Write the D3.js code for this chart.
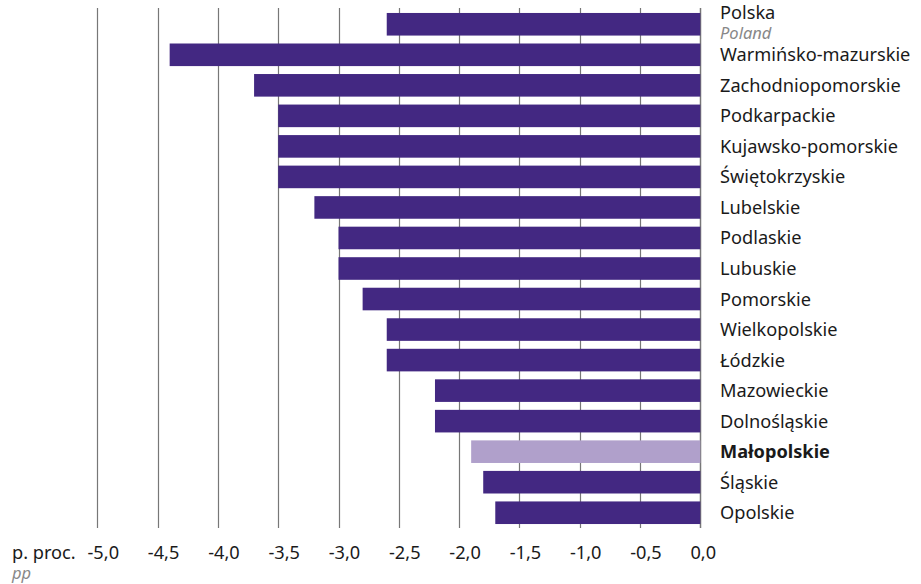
<!DOCTYPE html>
<html><head><meta charset="utf-8">
<script src="https://cdn.jsdelivr.net/npm/d3@7"></script>
<style>body{margin:0;background:#fff}svg{display:block}text{font-family:"Noto Sans",sans-serif}</style>
</head><body>
<script>
const categories = ["Polska","Warmińsko-mazurskie","Zachodniopomorskie","Podkarpackie","Kujawsko-pomorskie","Świętokrzyskie","Lubelskie","Podlaskie","Lubuskie","Pomorskie","Wielkopolskie","Łódzkie","Mazowieckie","Dolnośląskie","Małopolskie","Śląskie","Opolskie"];
const values = [-2.6,-4.4,-3.7,-3.5,-3.5,-3.5,-3.2,-3.0,-3.0,-2.8,-2.6,-2.6,-2.2,-2.2,-1.9,-1.8,-1.7];
const ticks = [-5.0,-4.5,-4.0,-3.5,-3.0,-2.5,-2.0,-1.5,-1.0,-0.5,0.0];
const highlight = "Małopolskie";
const subtitleEn = "Poland";
const unitPl = "p. proc.", unitEn = "pp";

const W=921,H=584;
const svg=d3.select("body").append("svg").attr("width",W).attr("height",H);
const x=d3.scaleLinear().domain([-5,0]).range([97.3,700.3]);
const y=d3.scaleBand().domain(categories).range([9,528]).paddingInner(0.26).paddingOuter(0.13);

svg.append("g").selectAll("line").data(ticks).join("line")
  .attr("x1",d=>Math.round(x(d))+0.5).attr("x2",d=>Math.round(x(d))+0.5)
  .attr("y1",8).attr("y2",528).attr("stroke","#777").attr("stroke-width",d=>d===0?1.5:1.2);

svg.append("g").selectAll("rect").data(categories).join("rect")
  .attr("x",(d,i)=>x(values[i])).attr("width",(d,i)=>x(0)-x(values[i]))
  .attr("y",d=>y(d)).attr("height",y.bandwidth())
  .attr("fill",d=>d===highlight?"#b0a0cb":"#432882");

const fs=18.2;
const lab=svg.append("g");
categories.forEach((c,i)=>{
  const cy=y(c)+y.bandwidth()/2;
  if(i===0){
    lab.append("text").attr("x",720).attr("y",19).attr("font-size",fs).attr("fill","#1a1a1a").text(c);
    lab.append("text").attr("x",720).attr("y",38.5).attr("font-size",16.5).attr("font-style","italic").attr("fill","#888").text(subtitleEn);
  } else {
    lab.append("text").attr("x",720).attr("y",cy+6.5).attr("font-size",fs)
      .attr("font-weight",c===highlight?"bold":"normal").attr("fill","#1a1a1a").text(c);
  }
});

const fmt=d=>d.toFixed(1).replace(".",",").replace("-0,0","0,0");
svg.append("g").selectAll("text").data(ticks).join("text")
  .attr("x",d=>x(d)+(d===0?3:6)).attr("y",559).attr("text-anchor","middle")
  .attr("font-size",fs).attr("fill","#1a1a1a").text(fmt);
svg.append("text").attr("x",12).attr("y",559).attr("font-size",fs).attr("fill","#1a1a1a").text(unitPl);
svg.append("text").attr("x",12).attr("y",578.5).attr("font-size",16.5).attr("font-style","italic").attr("fill","#888").text(unitEn);
</script>
</body></html>
